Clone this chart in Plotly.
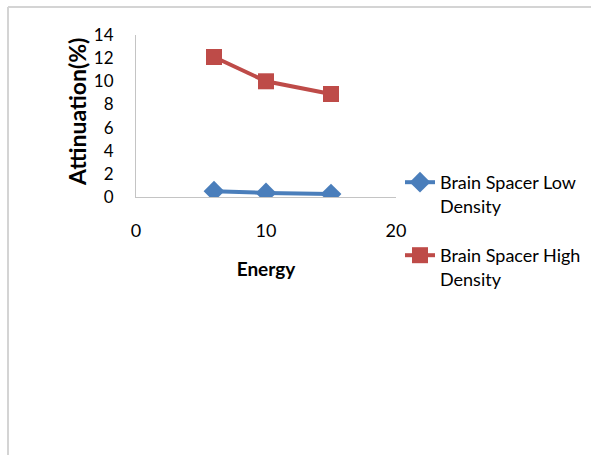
import plotly.graph_objects as go

energy = [6, 10, 15]
low_density = [0.5, 0.35, 0.25]
high_density = [12.1, 10.0, 8.9]
x_ticks = [0, 10, 20]
y_ticks = [0, 2, 4, 6, 8, 10, 12, 14]
series_names = ["Brain Spacer Low<br>Density", "Brain Spacer High<br>Density"]
x_title = "Energy"
y_title = "Attinuation(%)"

W, H = 591, 455
ML, MR, MT, MB = 136, 195, 35, 258
PW, PH = W - ML - MR, H - MT - MB
FONT = "Lato, Carlito, Calibri, sans-serif"

fig = go.Figure()
fig.add_trace(go.Scatter(
    x=energy, y=low_density, name=series_names[0], mode="lines+markers",
    line=dict(color="#4a7ebb", width=4),
    marker=dict(symbol="diamond", size=16, color="#4a7ebb"),
    legend="legend", showlegend=True,
))
fig.add_trace(go.Scatter(
    x=energy, y=high_density, name=series_names[1], mode="lines+markers",
    line=dict(color="#be4b48", width=4),
    marker=dict(symbol="square", size=16, color="#be4b48"),
    legend="legend2", showlegend=True,
))

def px_to_paper_x(px):
    return (px - ML) / PW

def px_to_paper_y(py):
    return 1 - (py - MT) / PH

frame_color = "#d4d4d4"
fig.add_shape(type="line", xref="paper", yref="paper",
              x0=px_to_paper_x(8), x1=px_to_paper_x(W + 5),
              y0=px_to_paper_y(7), y1=px_to_paper_y(7),
              line=dict(color=frame_color, width=2))
fig.add_shape(type="line", xref="paper", yref="paper",
              x0=px_to_paper_x(8), x1=px_to_paper_x(8),
              y0=px_to_paper_y(7), y1=px_to_paper_y(H + 5),
              line=dict(color=frame_color, width=2))

# rotated y-axis title
fig.add_annotation(
    text="<b>" + y_title + "</b>", textangle=-90, showarrow=False,
    xref="paper", yref="paper", x=px_to_paper_x(77), y=px_to_paper_y(112),
    xanchor="center", yanchor="middle",
    font=dict(family=FONT, size=23, color="#000000"),
)

legend_common = dict(
    xref="container", yref="container", xanchor="left", yanchor="top",
    font=dict(family=FONT, size=18, color="#000000"),
    bgcolor="rgba(0,0,0,0)", valign="top", itemclick=False, visible=True,
)

fig.update_layout(
    width=W, height=H,
    showlegend=True,
    margin=dict(l=ML, r=MR, t=MT, b=MB, autoexpand=False),
    paper_bgcolor="white", plot_bgcolor="white",
    font=dict(family=FONT, size=18, color="#000000"),
    xaxis=dict(
        range=[0, 20], tickvals=x_ticks, showgrid=False, zeroline=False,
        showline=True, linecolor="#c4c4c4", linewidth=1, ticks="",
        ticklabelstandoff=17,
        tickfont=dict(family=FONT, size=18, color="#000000"),
        title=dict(text="<b>" + x_title + "</b>", standoff=23,
                   font=dict(family=FONT, size=19, color="#000000")),
    ),
    yaxis=dict(
        range=[0, 14], tickvals=y_ticks, showgrid=False, zeroline=False,
        showline=True, linecolor="#c4c4c4", linewidth=1, ticks="",
        ticklabelstandoff=18,
        tickfont=dict(family=FONT, size=17, color="#000000"),
    ),
    legend=dict(x=400 / W, y=1 - 164 / H, **legend_common),
    legend2=dict(x=400 / W, y=1 - 237 / H, **legend_common),
)

fig.write_html("out.html")
